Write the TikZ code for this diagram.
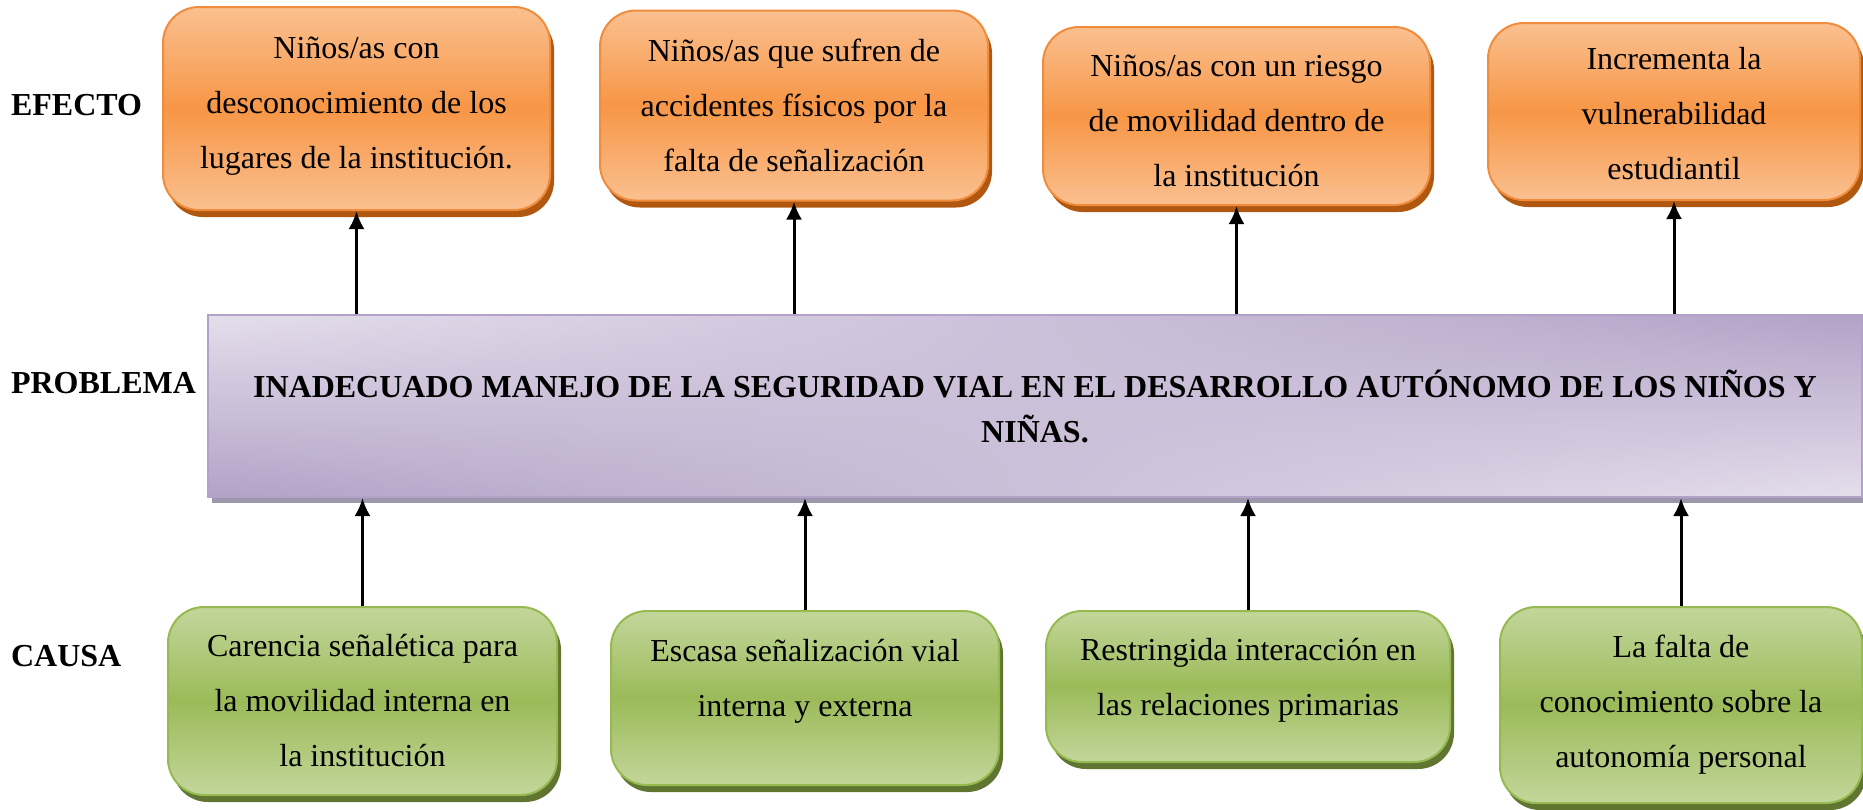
\documentclass[tikz,border=0pt]{standalone}
\usepackage{fontspec}
\setmainfont{Liberation Serif}
\usetikzlibrary{positioning,shadows,fadings,arrows.meta}
\definecolor{naranjaclaro}{RGB}{250,192,144}
\definecolor{naranja}{RGB}{247,150,70}
\definecolor{naranjaborde}{RGB}{240,140,60}
\definecolor{naranjasombra}{RGB}{176,88,16}
\definecolor{verdeclaro}{RGB}{195,214,155}
\definecolor{verde}{RGB}{155,187,89}
\definecolor{verdeborde}{RGB}{150,185,80}
\definecolor{verdesombra}{RGB}{95,117,48}
\definecolor{moradoclaro}{RGB}{229,223,236}
\definecolor{morado}{RGB}{179,162,199}
\definecolor{moradosombra}{RGB}{158,150,170}
\newcommand*\boxfont{\fontsize{16pt}{27.5pt}\selectfont}
\tikzstyle{caja}=[rounded corners=18pt,line width=1pt,align=center,font=\boxfont]
\tikzstyle{efecto}=[caja,draw=naranjaborde,top color=naranjaclaro,bottom color=naranjaclaro,middle color=naranja,drop shadow={shadow xshift=2pt,shadow yshift=-3.5pt,fill=naranjasombra,opacity=1}]
\tikzstyle{causa}=[caja,draw=verdeborde,top color=verdeclaro,bottom color=verdeclaro,middle color=verde,drop shadow={shadow xshift=2pt,shadow yshift=-3.5pt,fill=verdesombra,opacity=1}]
\tikzstyle{problema}=[draw=morado,line width=1pt,align=center,font=\bfseries\fontsize{16pt}{22.5pt}\selectfont,top color=moradoclaro,bottom color=morado,drop shadow={shadow xshift=2pt,shadow yshift=-3pt,fill=moradosombra,opacity=1},postaction={path fading=west,top color=morado,bottom color=moradoclaro},postaction={draw=morado,line width=1pt}]
\tikzstyle{rotulo}=[anchor=west,font=\bfseries\fontsize{16pt}{19pt}\selectfont]
\tikzstyle{arr}=[-{Latex[length=9pt,width=8pt]},line width=1.5pt]

\begin{document}
\begin{tikzpicture}[x=0.5pt,y=-0.5pt]
  \useasboundingbox (0,0) rectangle (1863,809);
  % efectos
  \node (E1) [efecto,minimum width=193.5pt,minimum height=101.5pt,text depth=5.5pt] at (356.5,108.5) {Niños/as con\\desconocimiento de los\\lugares de la institución.};
  \node (E2) [efecto,minimum width=194pt,minimum height=95pt] at (794,105.5) {Niños/as que sufren de\\accidentes físicos por la\\falta de señalización};
  \node (E3) [efecto,minimum width=193.5pt,minimum height=89pt,text height=71pt] at (1236.5,116) {Niños/as con un riesgo\\de movilidad dentro de\\la institución};
  \node (E4) [efecto,minimum width=186pt,minimum height=88.5pt,text height=68.3pt] at (1674,111.5) {Incrementa la\\vulnerabilidad\\estudiantil};
  % problema
  \node (P) [problema,minimum width=827pt,minimum height=91pt] at (1035,406) {INADECUADO MANEJO DE LA SEGURIDAD VIAL EN EL DESARROLLO AUTÓNOMO DE LOS NIÑOS Y\\NIÑAS.};
  % causas
  \node (C1) [causa,minimum width=194.5pt,minimum height=94pt] at (362.5,701) {Carencia señalética para\\la movilidad interna en\\la institución};
  \node (C2) [causa,minimum width=194pt,minimum height=87pt,text depth=20.5pt] at (805,698) {Escasa señalización vial\\interna y externa};
  \node (C3) [causa,minimum width=202pt,minimum height=75.5pt,text depth=10pt] at (1248,686.5) {Restringida interacción en\\las relaciones primarias};
  \node (C4) [causa,minimum width=181pt,minimum height=98pt] at (1681,705) {La falta de\\conocimiento sobre la\\autonomía personal};
  % rotulos
  \node (R1) [rotulo] at (4,105) {EFECTO};
  \node (R2) [rotulo] at (4,383) {PROBLEMA};
  \node (R3) [rotulo] at (4,656) {CAUSA};
  % flechas
  \draw[arr] (P.north -| E1.south) -- (E1.south);
  \draw[arr] (P.north -| E2.south) -- (E2.south);
  \draw[arr] (P.north -| E3.south) -- (E3.south);
  \draw[arr] (P.north -| E4.south) -- (E4.south);
  \draw[arr] (C1.north) -- (C1.north |- P.south);
  \draw[arr] (C2.north) -- (C2.north |- P.south);
  \draw[arr] (C3.north) -- (C3.north |- P.south);
  \draw[arr] (C4.north) -- (C4.north |- P.south);
\end{tikzpicture}
\end{document}
